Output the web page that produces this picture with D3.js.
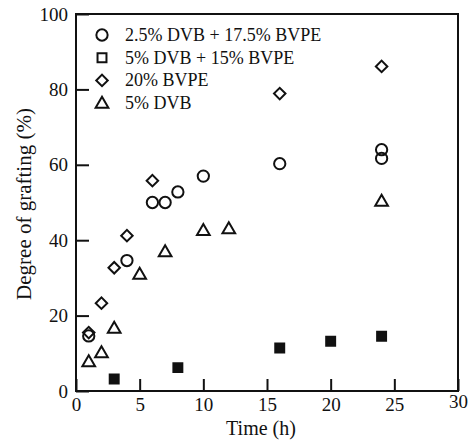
<!DOCTYPE html>
<html>
<head>
<meta charset="utf-8">
<script src="https://cdn.jsdelivr.net/npm/d3@7"></script>
<style>
  body { margin: 0; background: #fff; }
  svg text { font-family: "Liberation Serif", "Times New Roman", serif; fill: #111; }
</style>
</head>
<body>
<svg width="468" height="441"></svg>
<script>
const [WIDTH, HEIGHT] = [468, 441];
const MARGIN = { top: 14, right: 10, bottom: 50, left: 76 };

// Data
const seriesNames = ["2.5% DVB + 17.5% BVPE", "5% DVB + 15% BVPE", "20% BVPE", "5% DVB"];
const circleTime = [1, 4, 6, 7, 8, 10, 16, 24, 24];
const circleGraft = [14.6, 34.6, 50, 50, 52.8, 57, 60.3, 64, 61.7];
const squareTime = [3, 8, 16, 20, 24];
const squareGraft = [3.2, 6.2, 11.4, 13.2, 14.5];
const diamondTime = [1, 2, 3, 4, 6, 16, 24];
const diamondGraft = [15.5, 23.3, 32.7, 41.2, 55.8, 78.9, 86.1];
const triangleTime = [1, 2, 3, 5, 7, 10, 12, 24];
const triangleGraft = [7.8, 10.2, 16.7, 31, 37, 42.6, 43.1, 50.4];
const xTicks = [0, 5, 10, 15, 20, 25, 30];
const yTicks = [0, 20, 40, 60, 80, 100];

const zip = (xs, ys) => xs.map((x, i) => ({ x, y: ys[i] }));

const series = [
  { name: seriesNames[0], shape: "circle", points: zip(circleTime, circleGraft) },
  { name: seriesNames[1], shape: "square", points: zip(squareTime, squareGraft) },
  { name: seriesNames[2], shape: "diamond", points: zip(diamondTime, diamondGraft) },
  { name: seriesNames[3], shape: "triangle", points: zip(triangleTime, triangleGraft) },
];

const svg = d3.select("svg");
const innerW = WIDTH - MARGIN.left - MARGIN.right;
const innerH = HEIGHT - MARGIN.top - MARGIN.bottom;

const x = d3.scaleLinear().domain([0, 30]).range([0, innerW]);
const y = d3.scaleLinear().domain([0, 100]).range([innerH, 0]);

const g = svg.append("g").attr("transform", `translate(${MARGIN.left},${MARGIN.top})`);

// axes with inward ticks
const xAxis = g.append("g")
  .attr("transform", `translate(0,${innerH})`)
  .call(d3.axisBottom(x).tickValues(xTicks).tickSize(-12).tickPadding(7).tickSizeOuter(0));
const yAxis = g.append("g")
  .call(d3.axisLeft(y).tickValues(yTicks).tickSize(-13).tickPadding(8).tickSizeOuter(0));

[xAxis, yAxis].forEach((ax) => {
  ax.select(".domain").remove();
  ax.selectAll("line").attr("stroke", "#111").attr("stroke-width", 2);
  ax.selectAll("text").style("font-size", "19px").attr("fill", "#111");
});
// the "30" label sits a little higher in the figure
xAxis.selectAll(".tick text").filter((d) => d === 30).attr("y", 4);

// frame
g.append("rect")
  .attr("width", innerW)
  .attr("height", innerH)
  .attr("fill", "none")
  .attr("stroke", "#111")
  .attr("stroke-width", 2);

// axis titles
svg.append("text")
  .attr("x", 261)
  .attr("y", 435)
  .attr("text-anchor", "middle")
  .style("font-size", "20px")
  .text("Time (h)");

svg.append("text")
  .attr("transform", "translate(31,204) rotate(-90)")
  .attr("text-anchor", "middle")
  .style("font-size", "21px")
  .text("Degree of grafting (%)");

const symbolPath = (shape) => {
  if (shape === "circle") return d3.symbol(d3.symbolCircle, 100)();
  if (shape === "square") return d3.symbol(d3.symbolSquare, 80)();
  if (shape === "diamond") return d3.symbol(d3.symbolSquare, 66)();
  return d3.symbol(d3.symbolTriangle, 70)();
};

const drawMarker = (sel, shape, filled) => {
  sel.append("path")
    .attr("d", symbolPath(shape))
    .attr("transform", shape === "diamond" ? "rotate(45)" : shape === "triangle" ? "translate(0,1)" : null)
    .attr("fill", filled ? "#111" : "none")
    .attr("stroke", "#111")
    .attr("stroke-width", 2);
};

// points
series.forEach((s) => {
  g.append("g")
    .selectAll("g")
    .data(s.points)
    .enter()
    .append("g")
    .attr("transform", (d) => `translate(${x(d.x)},${y(d.y)})`)
    .each(function () {
      drawMarker(d3.select(this), s.shape, s.shape === "square");
    });
});

// legend
const legend = g.append("g").attr("transform", "translate(26,21)");
series.forEach((s, i) => {
  const row = legend.append("g").attr("transform", `translate(0,${i * 22.7})`);
  drawMarker(row, s.shape, false);
  row.append("text")
    .attr("x", 23)
    .attr("y", 6)
    .style("font-size", "18px")
    .text(s.name);
});
</script>
</body>
</html>
